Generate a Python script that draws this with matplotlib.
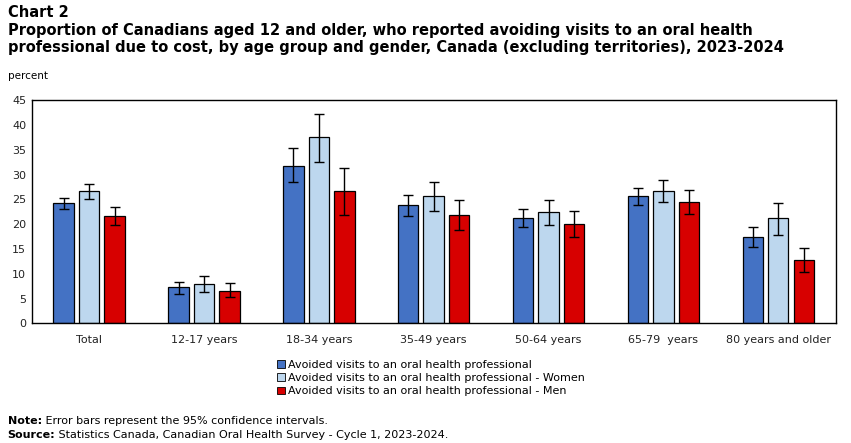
import matplotlib.pyplot as plt
import numpy as np
from matplotlib.patches import Patch

# ==== DATA ================================================================== #

groups = ["Total", "12-17 years", "18-34 years", "35-49 years",
          "50-64 years", "65-79  years", "80 years and older"]

series = ["Avoided visits to an oral health professional",
          "Avoided visits to an oral health professional - Women",
          "Avoided visits to an oral health professional - Men"]

all_val = [24.2, 7.3, 31.8, 23.8, 21.2, 25.6, 17.5]
all_lo  = [23.0, 6.0, 28.4, 21.6, 19.5, 23.8, 15.3]
all_hi  = [25.2, 8.3, 35.3, 25.8, 23.0, 27.2, 19.5]

wom_val = [26.6, 7.9, 37.5, 25.6, 22.4, 26.6, 21.2]
wom_lo  = [25.0, 6.3, 32.6, 22.6, 19.9, 24.4, 17.9]
wom_hi  = [28.0, 9.5, 42.3, 28.4, 24.8, 28.8, 24.2]

men_val = [21.6, 6.6, 26.6, 21.8, 20.1, 24.4, 12.7]
men_lo  = [19.9, 5.4, 21.8, 18.9, 17.5, 22.0, 10.3]
men_hi  = [23.4, 8.1, 31.4, 24.8, 22.6, 26.8, 15.1]

colors = ["#4472C4", "#BDD7EE", "#D70000"]

# ==== PLOT ================================================================== #

fig = plt.figure(figsize=(8.51, 4.43), dpi=100)
ax  = fig.add_axes([0.0373, 0.27, 0.9447, 0.504])

x     = np.arange(len(groups))
width = 0.178
step  = 0.222

data = [(all_val, all_lo, all_hi), (wom_val, wom_lo, wom_hi),
        (men_val, men_lo, men_hi)]

for i, (v, lo, hi) in enumerate(data):
    v  = np.array(v)
    er = [v - np.array(lo), np.array(hi) - v]
    ax.bar(x + (i - 1) * step, v, width, color=colors[i],
           edgecolor="black", linewidth=0.9, zorder=2)
    ax.errorbar(x + (i - 1) * step, v, yerr=er, fmt="none",
                ecolor="black", elinewidth=1.0, capsize=3.5,
                capthick=1.0, zorder=3)

ax.set_xlim(-0.5, len(groups) - 0.5)
ax.set_ylim(0, 45)
ax.set_yticks(range(0, 46, 5))
ax.set_xticks(x)
ax.set_xticklabels(groups)
ax.tick_params(axis="both", length=0, labelsize=8, colors="#222222")
ax.tick_params(axis="x", pad=8)
ax.tick_params(axis="y", pad=4)
for s in ax.spines.values():
    s.set_linewidth(1.0)
    s.set_color("black")

handles = [Patch(facecolor=c, edgecolor="black", linewidth=0.6)
           for c in colors]
fig.legend(handles, series, loc="upper left",
           bbox_to_anchor=(0.326, 0.188), frameon=False, fontsize=8,
           handlelength=0.65, handleheight=0.65, handletextpad=0.3,
           labelspacing=0.3, borderaxespad=0, borderpad=0)

fig.text(0.009, 0.988, "Chart 2", fontsize=10.5, fontweight="bold",
         va="top")
fig.text(0.009, 0.947,
         "Proportion of Canadians aged 12 and older, who reported avoiding"
         " visits to an oral health\nprofessional due to cost, by age group"
         " and gender, Canada (excluding territories), 2023-2024",
         fontsize=10.5, fontweight="bold", va="top", linespacing=1.1)
fig.text(0.009, 0.828, "percent", fontsize=7.5, va="center")

# footnotes: bold lead word followed by plain text
renderer = fig.canvas.get_renderer()
for y, lead, rest in [(0.049, "Note:", " Error bars represent the 95%"
                       " confidence intervals."),
                      (0.017, "Source:", " Statistics Canada, Canadian"
                       " Oral Health Survey - Cycle 1, 2023-2024.")]:
    t  = fig.text(0.009, y, lead, fontsize=8, fontweight="bold",
                  va="center")
    bb = t.get_window_extent(renderer).transformed(fig.transFigure.inverted())
    fig.text(bb.x1, y, rest, fontsize=8, va="center")

fig.savefig("out.png", dpi=100)
